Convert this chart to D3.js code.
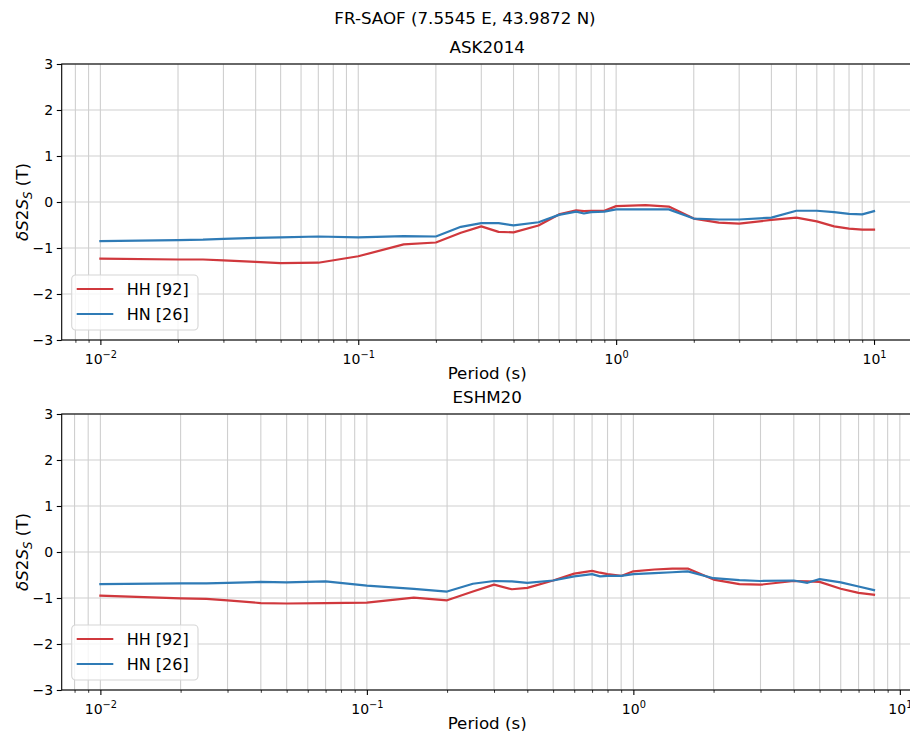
<!DOCTYPE html>
<html>
<head>
<meta charset="utf-8">
<script src="https://cdn.jsdelivr.net/npm/d3@7"></script>
<style>
  body { margin: 0; background: #fff; }
  svg { display: block; font-family: 'DejaVu Sans', sans-serif; }
</style>
</head>
<body>
<script>
// Data
const suptitle = 'FR-SAOF (7.5545 E, 43.9872 N)'
const seriesLabels = ['HH [92]', 'HN [26]']
const seriesColors = ['#d0383d', '#2f7bb6']
const yTicks = [-3, -2, -1, 0, 1, 2, 3]

const askPeriods = [0.01, 0.02, 0.025, 0.03, 0.04, 0.05, 0.07, 0.1, 0.15, 0.2, 0.25, 0.3, 0.35, 0.4, 0.5, 0.6, 0.7, 0.75, 0.8, 0.9, 1, 1.3, 1.6, 2, 2.5, 3, 4, 5, 6, 7, 8, 9, 10]
const askHH = [-1.23, -1.25, -1.25, -1.27, -1.30, -1.33, -1.32, -1.18, -0.92, -0.88, -0.67, -0.53, -0.65, -0.66, -0.51, -0.27, -0.18, -0.20, -0.19, -0.19, -0.09, -0.07, -0.10, -0.36, -0.45, -0.47, -0.39, -0.34, -0.42, -0.53, -0.58, -0.60, -0.60]
const askHN = [-0.85, -0.83, -0.82, -0.80, -0.78, -0.77, -0.75, -0.77, -0.74, -0.75, -0.54, -0.46, -0.46, -0.51, -0.44, -0.28, -0.21, -0.25, -0.22, -0.21, -0.16, -0.16, -0.16, -0.36, -0.38, -0.38, -0.34, -0.19, -0.19, -0.22, -0.26, -0.27, -0.20]

const eshmPeriods = [0.01, 0.02, 0.025, 0.03, 0.04, 0.05, 0.07, 0.1, 0.15, 0.2, 0.25, 0.3, 0.35, 0.4, 0.5, 0.6, 0.7, 0.75, 0.8, 0.9, 1, 1.2, 1.4, 1.6, 2, 2.5, 3, 4, 4.5, 5, 6, 7, 8]
const eshmHH = [-0.95, -1.01, -1.02, -1.05, -1.11, -1.12, -1.11, -1.10, -0.99, -1.05, -0.86, -0.71, -0.81, -0.78, -0.62, -0.47, -0.41, -0.45, -0.48, -0.52, -0.42, -0.38, -0.36, -0.36, -0.60, -0.70, -0.71, -0.63, -0.64, -0.65, -0.80, -0.89, -0.93]
const eshmHN = [-0.70, -0.68, -0.68, -0.67, -0.65, -0.66, -0.64, -0.73, -0.80, -0.86, -0.69, -0.63, -0.64, -0.67, -0.62, -0.53, -0.48, -0.53, -0.52, -0.52, -0.48, -0.46, -0.44, -0.42, -0.57, -0.61, -0.63, -0.62, -0.67, -0.59, -0.66, -0.75, -0.83]

const W = 910
const H = 731
const LEFT = 61.7
const RIGHT = 912.7
const PANEL_H = 276
const FS_TICK = 14
const FS_LARGE = 16.7

const svg = d3.select('body').append('svg')
  .attr('width', W)
  .attr('height', H)

svg.append('text')
  .attr('x', 465)
  .attr('y', 24)
  .attr('text-anchor', 'middle')
  .attr('font-size', FS_LARGE)
  .attr('fill', '#000')
  .text(suptitle)

function drawPanel (cfg) {
  const { periods, series, title, top } = cfg
  const bottom = top + PANEL_H

  // matplotlib style 5% margin in log space
  const lo = Math.log10(d3.min(periods))
  const hi = Math.log10(d3.max(periods))
  const pad = (hi - lo) * 0.05
  const x = d3.scaleLog().domain([10 ** (lo - pad), 10 ** (hi + pad)]).range([LEFT, RIGHT])
  const y = d3.scaleLinear().domain([-3, 3]).range([bottom, top])
  const [d0, d1] = x.domain()

  const majors = []
  const minors = []
  for (let k = -3; k <= 2; k++) {
    for (let m = 1; m <= 9; m++) {
      const v = m * 10 ** k
      if (v < d0 || v > d1) continue
      if (m === 1) majors.push(v)
      else minors.push(v)
    }
  }

  const g = svg.append('g')

  // Grid
  g.append('g').selectAll('line')
    .data(majors.concat(minors))
    .join('line')
    .attr('x1', d => x(d)).attr('x2', d => x(d))
    .attr('y1', top).attr('y2', bottom)
    .attr('stroke', '#cfcfcf')
    .attr('stroke-width', 1.1)

  g.append('g').selectAll('line')
    .data(yTicks)
    .join('line')
    .attr('x1', LEFT).attr('x2', RIGHT)
    .attr('y1', d => y(d)).attr('y2', d => y(d))
    .attr('stroke', '#cfcfcf')
    .attr('stroke-width', 1.1)

  // Lines
  const line = d3.line()
    .x(d => x(d[0]))
    .y(d => y(d[1]))

  series.forEach((vals, i) => {
    g.append('path')
      .datum(periods.map((p, j) => [p, vals[j]]))
      .attr('d', line)
      .attr('fill', 'none')
      .attr('stroke', seriesColors[i])
      .attr('stroke-width', 2.2)
      .attr('stroke-linejoin', 'round')
      .attr('stroke-linecap', 'square')
  })

  // Spines
  g.append('rect')
    .attr('x', LEFT).attr('y', top)
    .attr('width', RIGHT - LEFT).attr('height', PANEL_H)
    .attr('fill', 'none')
    .attr('stroke', '#000')
    .attr('stroke-width', 1.1)

  // X axis, major ticks with 10^n labels
  const xMajor = g.append('g')
    .attr('transform', `translate(0, ${bottom})`)
    .call(d3.axisBottom(x).tickValues(majors).tickSize(4.9).tickPadding(4).tickFormat(() => ''))
  xMajor.select('.domain').remove()
  xMajor.selectAll('.tick line').attr('stroke', '#000').attr('stroke-width', 1.1)
  xMajor.selectAll('.tick text')
    .attr('font-size', FS_TICK)
    .attr('font-family', 'DejaVu Sans, sans-serif')
    .attr('fill', '#000')
    .attr('dy', '1.05em')
    .each(function (d) {
      const t = d3.select(this)
      const e = Math.round(Math.log10(d))
      t.append('tspan').text('10')
      t.append('tspan')
        .attr('font-size', '0.7em')
        .attr('dy', '-0.6em')
        .text(e < 0 ? '\u2212' + (-e) : String(e))
    })

  const xMinor = g.append('g')
    .attr('transform', `translate(0, ${bottom})`)
    .call(d3.axisBottom(x).tickValues(minors).tickSize(2.8).tickFormat(() => ''))
  xMinor.select('.domain').remove()
  xMinor.selectAll('.tick line').attr('stroke', '#000').attr('stroke-width', 0.8)

  // Y axis
  const yAxis = g.append('g')
    .attr('transform', `translate(${LEFT}, 0)`)
    .call(d3.axisLeft(y).tickValues(yTicks).tickSize(4.9).tickPadding(3.6)
      .tickFormat(d => d < 0 ? '\u2212' + (-d) : String(d)))
  yAxis.select('.domain').remove()
  yAxis.selectAll('.tick line').attr('stroke', '#000').attr('stroke-width', 1.1)
  yAxis.selectAll('.tick text')
    .attr('font-size', FS_TICK)
    .attr('font-family', 'DejaVu Sans, sans-serif')
    .attr('fill', '#000')

  // Axis titles
  g.append('text')
    .attr('x', (LEFT + RIGHT) / 2)
    .attr('y', bottom + 38.5)
    .attr('text-anchor', 'middle')
    .attr('font-size', FS_LARGE)
    .text('Period (s)')

  g.append('text')
    .attr('x', (LEFT + RIGHT) / 2)
    .attr('y', top - 11)
    .attr('text-anchor', 'middle')
    .attr('font-size', FS_LARGE)
    .text(title)

  const yl = g.append('text')
    .attr('transform', `translate(28, ${(top + bottom) / 2}) rotate(-90)`)
    .attr('text-anchor', 'middle')
    .attr('font-size', FS_LARGE)
  yl.append('tspan').attr('font-style', 'italic').text('\u03b4S')
  yl.append('tspan').text('2')
  yl.append('tspan').attr('font-style', 'italic').text('S')
  yl.append('tspan').attr('font-style', 'italic').attr('font-size', '0.7em').attr('dy', 3.5).text('S')
  yl.append('tspan').attr('dy', -3.5).text(' (T)')

  // Legend
  const lg = g.append('g').attr('transform', `translate(71.7, ${top + 211})`)
  lg.append('rect')
    .attr('width', 126.3).attr('height', 55)
    .attr('rx', 4)
    .attr('fill', '#fff').attr('fill-opacity', 0.8)
    .attr('stroke', '#d6d6d6').attr('stroke-width', 1.1)
  seriesLabels.forEach((label, i) => {
    const ly = 14 + i * 25
    lg.append('line')
      .attr('x1', 5).attr('x2', 41.6)
      .attr('y1', ly).attr('y2', ly)
      .attr('stroke', seriesColors[i])
      .attr('stroke-width', 2.2)
    lg.append('text')
      .attr('x', 55)
      .attr('y', ly + 6)
      .attr('font-size', 16)
      .text(label)
  })
}

drawPanel({ periods: askPeriods, series: [askHH, askHN], title: 'ASK2014', top: 64 })
drawPanel({ periods: eshmPeriods, series: [eshmHH, eshmHN], title: 'ESHM20', top: 414 })
</script>
</body>
</html>
